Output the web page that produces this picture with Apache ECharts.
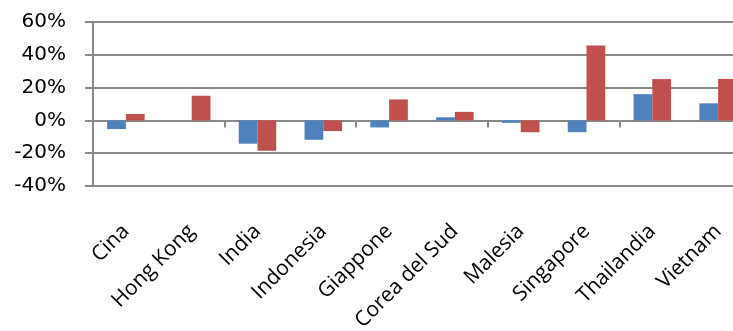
<!DOCTYPE html>
<html>
<head>
<meta charset="utf-8">
<script src="https://cdn.jsdelivr.net/npm/echarts@6/dist/echarts.min.js"></script>
<style>
  html, body { margin: 0; padding: 0; background: #fff; }
  #chart { width: 733px; height: 331px; }
</style>
</head>
<body>
<div id="chart"></div>
<script>
// Countries on the category axis
const categories = ['Cina', 'Hong Kong', 'India', 'Indonesia', 'Giappone',
  'Corea del Sud', 'Malesia', 'Singapore', 'Thailandia', 'Vietnam'];

// Percentage changes, first series (blue) and second series (red)
const seriesBlue = [-5.3, 0, -14.2, -11.8, -4.3, 1.9, -1.5, -7.2, 16.0, 10.4];
const seriesRed = [3.9, 15.0, -18.5, -6.5, 12.8, 5.2, -7.2, 45.6, 25.2, 25.3];

// Value axis ticks
const yMin = -40, yMax = 60, yStep = 20;

const gridGray = '#8a8a8a';

const chart = echarts.init(document.getElementById('chart'), null, { renderer: 'canvas' });

chart.setOption({
  animation: false,
  backgroundColor: '#ffffff',
  // plot area runs a little past the right edge of the canvas
  grid: { left: 93, top: 22, width: 658, height: 164, containLabel: false, outerBoundsMode: 'none' },
  xAxis: [
    {
      type: 'category',
      data: categories,
      position: 'bottom',
      axisLine: { show: false, onZero: false },
      axisTick: { show: false },
      axisLabel: {
        rotate: 45,
        interval: 0,
        margin: 42,
        fontFamily: 'Open Sans',
        fontSize: 21,
        color: '#000'
      }
    },
    {
      // zero line with category boundary ticks
      type: 'category',
      data: categories,
      position: 'top',
      axisLine: { show: true, onZero: true, lineStyle: { color: gridGray, width: 2 } },
      axisTick: { show: true, inside: true, length: 7, lineStyle: { color: gridGray, width: 2 } },
      axisLabel: { show: false },
      splitLine: { show: false }
    }
  ],
  yAxis: {
    type: 'value',
    min: yMin,
    max: yMax,
    interval: yStep,
    axisLine: { show: true, lineStyle: { color: gridGray, width: 2 } },
    axisTick: { show: true, length: 8, lineStyle: { color: gridGray, width: 2 } },
    splitLine: { show: true, lineStyle: { color: gridGray, width: 2 } },
    axisLabel: {
      formatter: '{value}%',
      margin: 26,
      padding: [0, 1, 0, 0],
      fontFamily: 'DejaVu Sans',
      fontSize: 20,
      color: '#000'
    }
  },
  series: [
    {
      type: 'bar',
      data: seriesBlue,
      xAxisIndex: 0,
      barGap: '0%',
      barCategoryGap: '43%',
      itemStyle: { color: '#4F81BD' }
    },
    {
      type: 'bar',
      data: seriesRed,
      xAxisIndex: 0,
      barGap: '0%',
      barCategoryGap: '43%',
      itemStyle: { color: '#C0504D' }
    }
  ]
});
</script>
</body>
</html>
